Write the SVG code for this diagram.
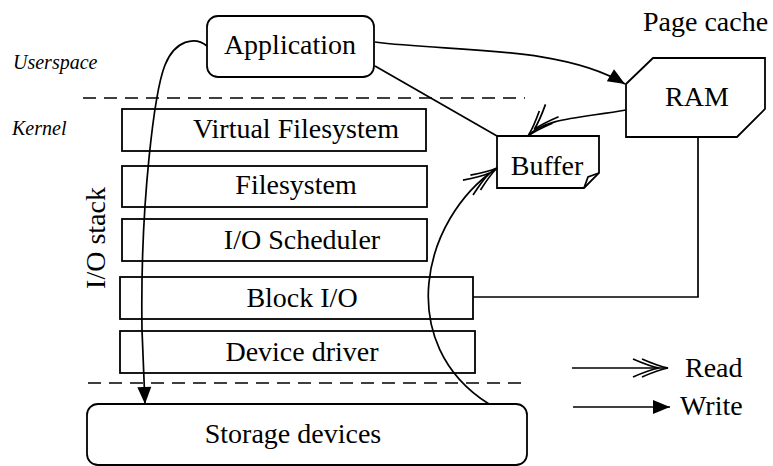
<svg xmlns="http://www.w3.org/2000/svg" width="773" height="466" viewBox="0 0 773 466">
<style>
.box{fill:#fff;stroke:#000;stroke-width:1.8}
.t{font-family:'Liberation Serif',serif;font-size:28px;fill:#000;text-anchor:middle}
.ts{font-family:'Liberation Serif',serif;font-size:28px;fill:#000}
.it{font-family:'Liberation Serif',serif;font-size:20px;font-style:italic;fill:#000}
.ln{fill:none;stroke:#000;stroke-width:1.7}
.dash{fill:none;stroke:#000;stroke-width:1.7;stroke-dasharray:13 8}
</style>
<defs>
<marker id="w" markerUnits="userSpaceOnUse" markerWidth="40" markerHeight="40" refX="0" refY="0" orient="auto" overflow="visible">
<path d="M-17,-7 L0,0 L-17,7 Z" fill="#000"/>
</marker>
<marker id="r" markerUnits="userSpaceOnUse" markerWidth="40" markerHeight="40" refX="0" refY="0" orient="auto" overflow="visible">
<path d="M-26,-9 Q-10,-2 0,0 Q-10,2 -26,9 M-35,-9 Q-19,-2 -9,0 Q-19,2 -35,9" fill="none" stroke="#000" stroke-width="1.7"/>
</marker>
</defs>

<g id="labels">
<text class="it" x="13" y="69">Userspace</text>
<text class="it" x="12" y="135">Kernel</text>
<text class="t" transform="translate(105,238) rotate(-90)">I/O stack</text>
<text class="ts" x="643" y="31">Page cache</text>
</g>

<g id="separators">
<line class="dash" x1="83" y1="98" x2="525" y2="98"/>
<line class="dash" x1="88" y1="383" x2="527" y2="383"/>
</g>

<g id="application">
<rect class="box" x="207" y="16" width="167" height="61" rx="11"/>
<text class="t" x="290" y="54">Application</text>
</g>

<g id="ram">
<path class="box" d="M626,84 L653,58 L765,58 L765,109 L737,137 L626,137 Z"/>
<text class="t" x="697" y="106">RAM</text>
</g>

<g id="buffer">
<path class="box" d="M497,136 L599,136 L599,173 L584,188 L497,188 Z"/>
<path class="ln" d="M599,173 L588,177 L584,188"/>
<text class="t" x="547" y="175">Buffer</text>
</g>

<g id="vfs">
<rect class="box" x="122" y="109" width="304" height="42"/>
<text class="t" x="296" y="138">Virtual Filesystem</text>
</g>

<g id="filesystem">
<rect class="box" x="122" y="166" width="305" height="41"/>
<text class="t" x="296" y="194">Filesystem</text>
</g>

<g id="scheduler">
<rect class="box" x="122" y="219" width="305" height="42"/>
<text class="t" x="302" y="249">I/O Scheduler</text>
</g>

<g id="blockio">
<rect class="box" x="120" y="277" width="353" height="42"/>
<text class="t" x="302" y="307">Block I/O</text>
</g>

<g id="driver">
<rect class="box" x="120" y="331" width="355" height="42"/>
<text class="t" x="302" y="361">Device driver</text>
</g>

<g id="storage">
<rect class="box" x="87" y="404" width="440" height="61" rx="11"/>
<text class="t" x="293" y="443">Storage devices</text>
</g>

<g id="legend">
<line class="ln" x1="572" y1="368" x2="668" y2="368" marker-end="url(#r)"/>
<text class="ts" x="685" y="377">Read</text>
<line class="ln" x1="573" y1="407" x2="670" y2="407" marker-end="url(#w)"/>
<text class="ts" x="680" y="415">Write</text>
</g>

<g id="connectors">
<path class="ln" d="M207,46 C195,36 175,40 165,65 C155,90 140,200 142,330 L145,404" marker-end="url(#w)"/>
<path class="ln" d="M375,42 C450,52 560,45 625,84" marker-end="url(#w)"/>
<path class="ln" d="M375,66 L497,136"/>
<path class="ln" d="M626,110 C580,118 545,118 528,136" marker-end="url(#r)"/>
<path class="ln" d="M698,137 L698,297 L473,297"/>
<path class="ln" d="M489,404 C395,345 420,220 497,168" marker-end="url(#r)"/>
</g>
</svg>
